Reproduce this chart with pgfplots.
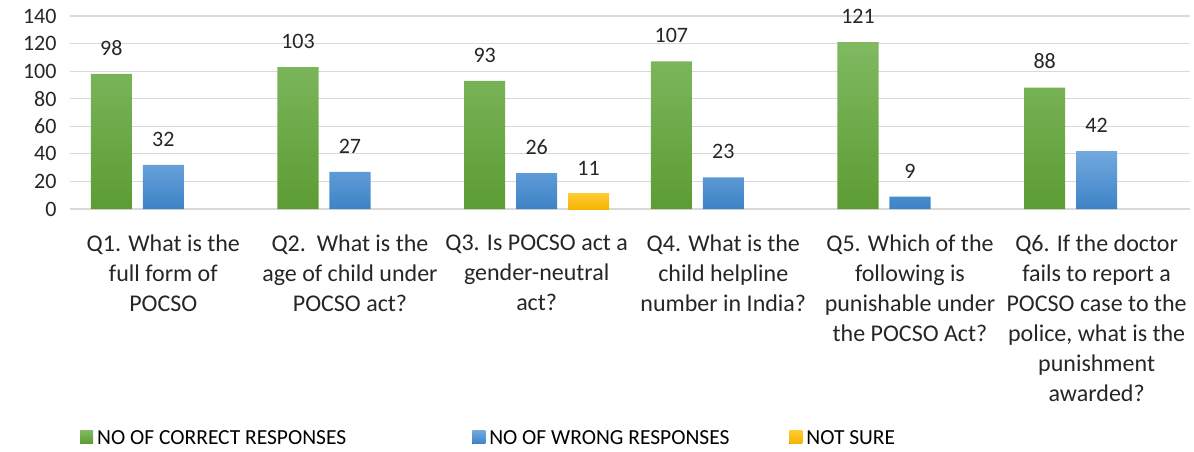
\documentclass[border=0pt]{standalone}
\usepackage{pgfplots}
\pgfplotsset{compat=1.18}
\usepackage{fontspec}
\setmainfont{Carlito}
\definecolor{gtop}{HTML}{80B961}
\definecolor{gbot}{HTML}{5C9C33}
\definecolor{btop}{HTML}{72A9DF}
\definecolor{bbot}{HTML}{3D83C6}
\definecolor{ytop}{HTML}{FFCA33}
\definecolor{ybot}{HTML}{F5B400}
\definecolor{gridc}{HTML}{D9D9D9}
\begin{document}
\begin{tikzpicture}
\path[use as bounding box] (-70pt,-242pt) rectangle (1124pt,209pt);
\begin{axis}[
  scale only axis,
  width=1120pt, height=193pt,
  ybar=0pt,
  xmin=-0.5, xmax=5.5,
  ymin=0, ymax=140,
  ytick={0,20,...,140},
  xtick={0,...,5},
  xticklabels={
    {Q1. What is the\\full form of\\POCSO},
    {Q2.\ \ What is the\\age of child under\\POCSO act?},
    {Q3. Is POCSO act a\\gender-neutral\\act?},
    {Q4. What is the\\child helpline\\number in India?},
    {Q5. Which of the\\following is\\punishable under\\the POCSO Act?},
    {Q6. If the doctor\\fails to report a\\POCSO case to the\\police, what is the\\punishment\\awarded?}},
  xticklabel style={font=\fontsize{24}{30}\selectfont, align=center, anchor=north, yshift=-22pt, text=black!85},
  yticklabel style={font=\fontsize{22}{26}\selectfont, xshift=-10pt, text=black!85},
  /pgf/number format/assume math mode=true,
  major tick length=0pt,
  ymajorgrids,
  grid style={gridc, line width=1.2pt},
  axis x line*=bottom,
  axis y line*=left,
  y axis line style={draw=none},
  x axis line style={-, draw=gridc, line width=1.5pt},
  bar width=0.22,
  nodes near coords,
  every node near coord/.append style={font=\fontsize{22}{26}\selectfont, text=black!85, yshift=15pt},
  point meta=explicit symbolic,
  legend columns=3,
  legend style={draw=none, fill=none, font=\fontsize{21.5}{26}\selectfont,
    at={(0.0,-1.19)}, anchor=west, xshift=7pt,
    /tikz/every odd column/.append style={column sep=2pt},
    /tikz/column 2/.append style={column sep=124pt},
    /tikz/column 4/.append style={column sep=58pt}},
  legend image code/.code={\fill[#1] (0pt,-5pt) rectangle (13pt,8pt);},
]
\addplot[bar shift=-0.2785, draw=none, top color=gtop, bottom color=gbot]
  coordinates {(0,98)[98] (1,103)[103] (2,93)[93] (3,107)[107] (4,121)[121] (5,88)[88]};
\addlegendentry{NO OF CORRECT RESPONSES}
\addplot[bar shift=0, draw=none, top color=btop, bottom color=bbot]
  coordinates {(0,32)[32] (1,27)[27] (2,26)[26] (3,23)[23] (4,9)[9] (5,42)[42]};
\addlegendentry{NO OF WRONG RESPONSES}
\addplot[bar shift=0.2785, draw=none, top color=ytop, bottom color=ybot]
  coordinates {(2,11)[11]};
\addlegendentry{NOT SURE}
\end{axis}
\end{tikzpicture}
\end{document}
